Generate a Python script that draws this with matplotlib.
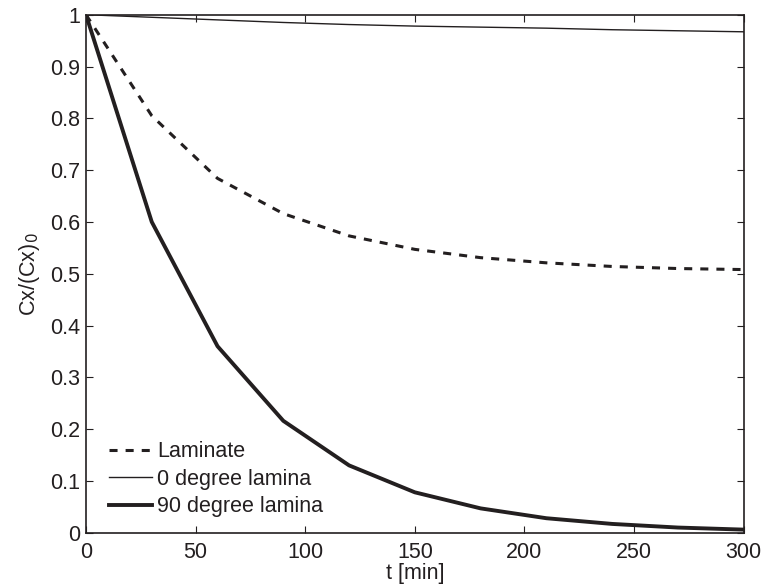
import matplotlib
matplotlib.use("Agg")
import matplotlib.pyplot as plt

plt.rcParams['font.family'] = ['Liberation Sans', 'DejaVu Sans']
plt.rcParams['lines.scale_dashes'] = False

# time [min]
t = [0, 30, 60, 90, 120, 150, 180, 210, 240, 270, 300]

laminate = [1.0, 0.805, 0.684, 0.616, 0.573, 0.547, 0.531, 0.521, 0.514, 0.510, 0.508]
lamina_0 = [1.0, 0.995, 0.990, 0.985, 0.981, 0.978, 0.976, 0.974, 0.971, 0.969, 0.967]
lamina_90 = [1.0, 0.600, 0.360, 0.216, 0.130, 0.078, 0.047, 0.028, 0.017, 0.010, 0.006]

x_ticks = [0, 50, 100, 150, 200, 250, 300]
y_ticks = [0, 0.1, 0.2, 0.3, 0.4, 0.5, 0.6, 0.7, 0.8, 0.9, 1]
y_ticklabels = ['0', '0.1', '0.2', '0.3', '0.4', '0.5', '0.6', '0.7', '0.8', '0.9', '1']

ink = '#231f20'
fs = 15.5

fig = plt.figure(figsize=(7.63, 5.88), dpi=100)
ax = fig.add_axes([0.1127, 0.094, 0.862, 0.881])

ax.plot(t, laminate, color=ink, lw=2.2, dashes=(5.8, 5.8), label='Laminate')
ax.plot(t, lamina_0, color=ink, lw=1.0, label='0 degree lamina')
ax.plot(t, lamina_90, color=ink, lw=2.8, label='90 degree lamina')

ax.set_xlim(0, 300)
ax.set_ylim(0, 1)
ax.set_xticks(x_ticks)
ax.set_xticklabels([str(v) for v in x_ticks])
ax.set_yticks(y_ticks)
ax.set_yticklabels(y_ticklabels)

ax.tick_params(direction='in', length=5, width=0.8, color=ink, labelcolor=ink,
               labelsize=fs, top=True, right=True)
ax.tick_params(axis='x', pad=7)
ax.tick_params(axis='y', pad=4)
for s in ax.spines.values():
    s.set_color(ink)
    s.set_linewidth(1.2)

ax.set_xlabel('t [min]', fontsize=fs, color=ink, labelpad=0)
ax.set_ylabel(r'Cx/(Cx)$_0$', fontsize=fs, color=ink, labelpad=6)

leg = ax.legend(loc='lower left', bbox_to_anchor=(0.035, 0.03), frameon=False,
                fontsize=fs, borderpad=0, borderaxespad=0, handlelength=2.0,
                handletextpad=0.25, labelspacing=0.3)
for txt in leg.get_texts():
    txt.set_color(ink)

fig.savefig('out.png', dpi=100)
